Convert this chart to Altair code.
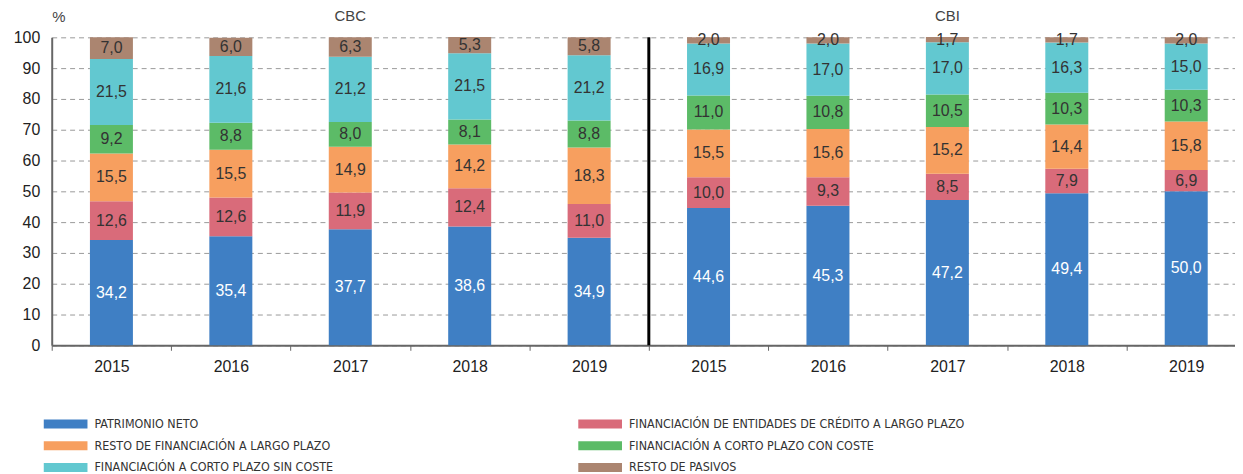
import altair as alt
import pandas as pd

groups = ["CBC", "CBI"]
years = ["2015", "2016", "2017", "2018", "2019"]
series = [
    "PATRIMONIO NETO",
    "FINANCIACIÓN DE ENTIDADES DE CRÉDITO A LARGO PLAZO",
    "RESTO DE FINANCIACIÓN A LARGO PLAZO",
    "FINANCIACIÓN A CORTO PLAZO CON COSTE",
    "FINANCIACIÓN A CORTO PLAZO SIN COSTE",
    "RESTO DE PASIVOS",
]
colors = ["#3f7fc4", "#d96b7a", "#f79f5f", "#5cbb67", "#62c8d0", "#ab8570"]

# values per series, CBC 2015..2019 then CBI 2015..2019
patrimonio = [34.2, 35.4, 37.7, 38.6, 34.9, 44.6, 45.3, 47.2, 49.4, 50.0]
entidades = [12.6, 12.6, 11.9, 12.4, 11.0, 10.0, 9.3, 8.5, 7.9, 6.9]
resto_lp = [15.5, 15.5, 14.9, 14.2, 18.3, 15.5, 15.6, 15.2, 14.4, 15.8]
cp_con = [9.2, 8.8, 8.0, 8.1, 8.8, 11.0, 10.8, 10.5, 10.3, 10.3]
cp_sin = [21.5, 21.6, 21.2, 21.5, 21.2, 16.9, 17.0, 17.0, 16.3, 15.0]
resto_pas = [7.0, 6.0, 6.3, 5.3, 5.8, 2.0, 2.0, 1.7, 1.7, 2.0]
y_ticks = [0, 10, 20, 30, 40, 50, 60, 70, 80, 90, 100]

cats = [f"{g} {y}" for g in groups for y in years]
all_vals = [patrimonio, entidades, resto_lp, cp_con, cp_sin, resto_pas]

rows = []
for si, (s, vals) in enumerate(zip(series, all_vals)):
    for c, v in zip(cats, vals):
        rows.append({"cat": c, "serie": s, "order": si, "value": v,
                     "label": f"{v:.1f}".replace(".", ","),
                     "white": si == 0})
df = pd.DataFrame(rows)

titles_df = pd.DataFrame({"cat": [f"{g} 2017" for g in groups], "name": groups})
sep_df = pd.DataFrame({"cat": ["CBI 2015"]})

W = 1191
H = 310
xscale = alt.Scale(domain=cats, paddingInner=0, paddingOuter=0, range=[0, 1202])
yscale = alt.Scale(domain=[0, 100], nice=False)
base_font = "Liberation Sans, Arial, sans-serif"

xaxis = alt.Axis(title=None, labelExpr="split(datum.label, ' ')[1]",
                 tickBand="extent", labelAngle=0, labelFontSize=16,
                 labelColor="#222", labelFont=base_font, labelPadding=8,
                 domainColor="#666", domainWidth=2, tickColor="#666",
                 tickSize=5, tickWidth=1, grid=False)
yaxis = alt.Axis(values=y_ticks, title="%",
                 titleAngle=0, titleAlign="left", titleBaseline="middle",
                 titleX=0, titleY=-21, titleFontSize=15,
                 titleFontWeight="normal", titleColor="#444",
                 titleFont=base_font, labelOverlap=False,
                 labelFontSize=16, labelColor="#222", labelFont=base_font,
                 labelPadding=12, ticks=False, domainColor="#666",
                 domainWidth=2, gridColor="#999", gridDash=[5, 4],
                 gridWidth=1)

stacked = alt.Chart(df).transform_stack(
    stack="value", groupby=["cat"], as_=["y0", "y1"],
    sort=[alt.SortField("order", order="ascending")]
).transform_calculate(mid="(datum.y0 + datum.y1) / 2")

bars = stacked.mark_bar(width={"band": 0.36}).encode(
    x=alt.X("cat:N", scale=xscale, sort=cats, axis=xaxis),
    y=alt.Y("y0:Q", scale=yscale, axis=yaxis),
    y2="y1:Q",
    color=alt.Color("serie:N", scale=alt.Scale(domain=series, range=colors),
                    legend=alt.Legend(
                        title=None, orient="none", legendX=5, legendY=380,
                        columns=2, direction="horizontal",
                        symbolType="M-2.444,-0.5 L2.444,-0.5 L2.444,0.5 L-2.444,0.5 Z",
                        symbolSize=324, symbolStrokeWidth=0, symbolOpacity=1,
                        labelOffset=20, labelFontSize=12.5, labelColor="#333",
                        labelFont="DejaVu Sans Condensed, sans-serif",
                        labelLimit=600, rowPadding=6, columnPadding=246,
                        padding=0)),
    order=alt.Order("order:Q"),
)

texts = stacked.mark_text(fontSize=16, font=base_font, baseline="middle").encode(
    x=alt.X("cat:N", scale=xscale, sort=cats, axis=xaxis),
    y=alt.Y("mid:Q", scale=yscale, axis=yaxis),
    text="label:N",
    color=alt.condition("datum.white", alt.value("#ffffff"), alt.value("#333333")),
)

titles = alt.Chart(titles_df).mark_text(fontSize=15, font=base_font, color="#444",
                                         baseline="middle").encode(
    x=alt.X("cat:N", scale=xscale, sort=cats, axis=xaxis),
    y=alt.value(-21),
    text="name:N",
)

sep = alt.Chart(sep_df).mark_rule(color="#000000", strokeWidth=3).encode(
    x=alt.X("cat:N", scale=xscale, sort=cats, bandPosition=0, axis=xaxis),
    y=alt.datum(0, scale=yscale, axis=yaxis),
    y2=alt.datum(100),
)

chart = alt.layer(bars, texts, titles, sep).properties(
    width=W, height=H,
    autosize=alt.AutoSizeParams(type="none"),
    padding={"left": 44, "top": 28, "right": 0, "bottom": 128},
).configure_view(stroke=None)

chart.save("out.html", embed_options={"renderer": "svg", "actions": False})
